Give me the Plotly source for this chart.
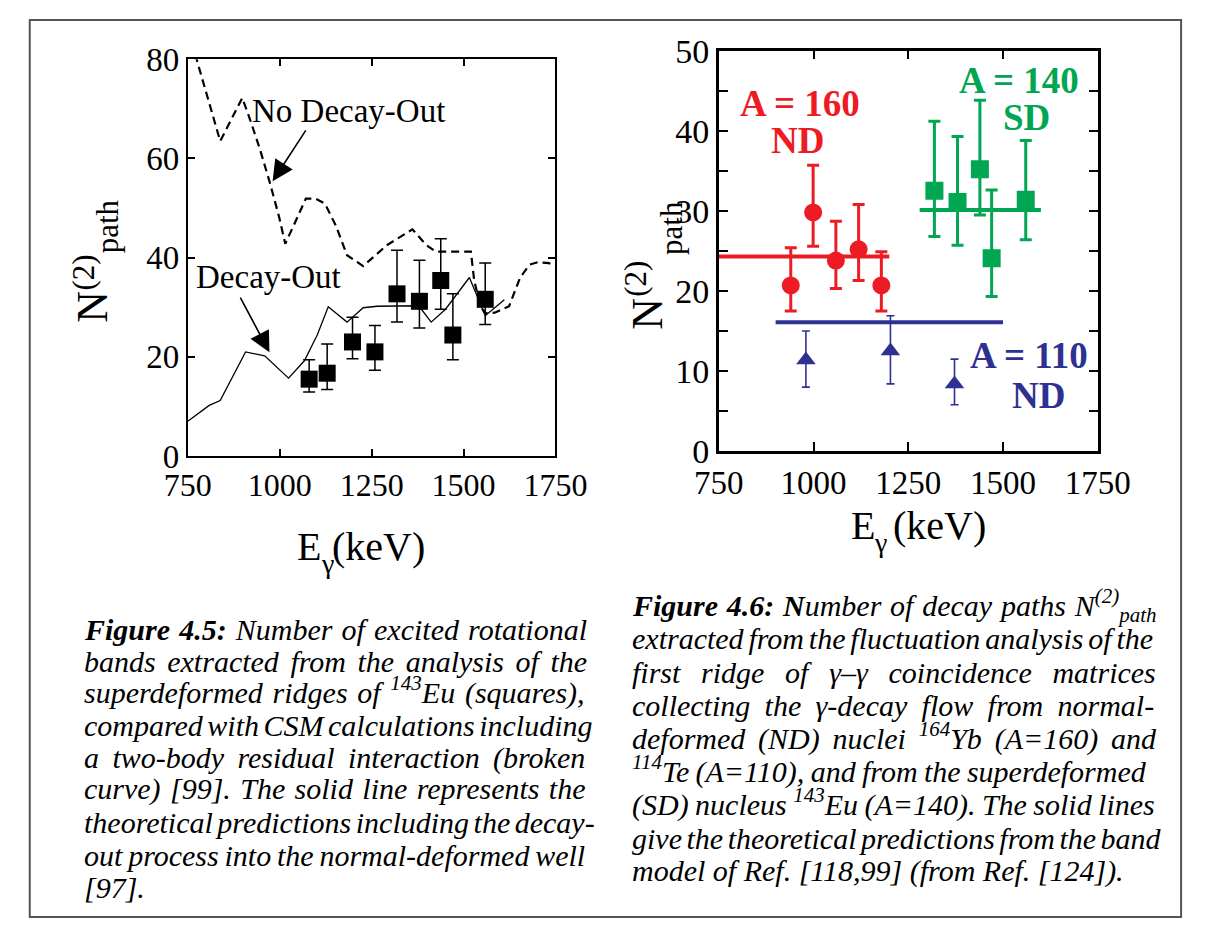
import re
import plotly.graph_objects as go

W, H = 1216, 938

# ---------------- data: left panel (143Eu) ----------------
nodecay_E = [770, 838, 898, 920, 946, 972, 998, 1015, 1041, 1071, 1097, 1123, 1153, 1183, 1227,
             1291, 1361, 1399, 1425, 1520, 1529, 1546, 1559, 1585, 1624, 1654, 1680, 1702, 1732, 1750]
nodecay_N = [81.0, 63.5, 72.2, 67.7, 61.9, 55.4, 48.3, 42.8, 47.0, 51.9, 51.9, 50.9, 46.4, 40.5, 38.3,
             42.5, 45.7, 42.5, 41.2, 41.2, 35.4, 30.2, 28.8, 28.9, 30.2, 36.0, 38.6, 39.1, 38.9, 38.4]

decay_E = [750, 808, 838, 907, 959, 1024, 1067, 1102, 1132, 1183, 1227, 1265, 1378, 1412, 1451,
           1516, 1559, 1611]
decay_N = [7.0, 10.2, 11.2, 21.0, 20.2, 15.7, 19.2, 24.4, 30.1, 27.0, 29.9, 30.2, 30.3, 27.0, 29.6,
           36.0, 28.3, 31.5]

eu_E = [1080, 1129, 1198, 1259, 1319, 1380, 1438, 1471, 1559]
eu_N = [15.5, 16.7, 23.0, 21.0, 32.7, 31.2, 35.4, 24.4, 31.6]
eu_err_plus = [3.9, 5.9, 5.0, 5.3, 8.8, 8.3, 8.4, 8.3, 7.3]
eu_err_minus = [2.6, 3.3, 3.4, 3.7, 5.7, 5.4, 5.8, 5.0, 5.1]

# ---------------- data: right panel ----------------
a160_E = [940, 999, 1059, 1119, 1179]
a160_N = [20.7, 29.8, 23.8, 25.2, 20.7]
a160_plus = [4.7, 5.9, 4.9, 5.6, 4.2]
a160_minus = [3.2, 4.2, 3.5, 3.9, 3.2]

a140_E = [1319, 1380, 1439, 1470, 1560]
a140_N = [32.5, 31.1, 35.2, 24.1, 31.4]
a140_plus = [8.7, 8.2, 8.6, 8.5, 7.4]
a140_minus = [5.7, 5.4, 5.7, 4.8, 5.0]

a110_E = [980, 1203, 1372]
a110_N = [11.4, 12.5, 8.4]
a110_plus = [3.6, 4.4, 3.1]
a110_minus = [3.4, 4.1, 2.6]

theory160_E = [750, 1200]
theory160_N = [24.3, 24.3]
theory140_E = [1280, 1600]
theory140_N = [30.1, 30.1]
theory110_E = [900, 1500]
theory110_N = [16.1, 16.1]

x_ticks = [750, 1000, 1250, 1500, 1750]
left_y_ticks = [0, 20, 40, 60, 80]
right_y_ticks = [0, 5, 10, 15, 20, 25, 30, 35, 40, 45, 50]
right_y_labels = ["0", "", "10", "", "20", "", "30", "", "40", "", "50"]

caption_left = [
    "<b>Figure</b> <b>4.5:</b> Number of excited rotational",
    "bands extracted from the analysis of the",
    "superdeformed ridges of <sup>143</sup>Eu (squares),",
    "compared with CSM calculations including",
    "a two-body residual interaction (broken",
    "curve) [99]. The solid line represents the",
    "theoretical predictions including the decay-",
    "out process into the normal-deformed well",
    "[97].",
]
caption_right = [
    "<b>Figure</b> <b>4.6:</b> <b>N</b>umber of decay paths N<sup>(2)</sup><sub>path</sub>",
    "extracted from the fluctuation analysis of the",
    "first ridge of γ–γ coincidence matrices",
    "collecting the γ-decay flow from normal-",
    "deformed (ND) nuclei <sup>164</sup>Yb (A=160) and",
    "<sup>114</sup>Te (A=110), and from the superdeformed",
    "(SD) nucleus <sup>143</sup>Eu (A=140). The solid lines",
    "give the theoretical predictions from the band",
    "model of Ref. [118,99] (from Ref. [124]).",
]

RED = "#ED1C24"
GREEN = "#00A651"
BLUE = "#2E3192"
SERIF = "Liberation Serif"

fig = go.Figure()

# ---- left panel traces ----
fig.add_trace(go.Scatter(x=nodecay_E, y=nodecay_N, mode="lines",
                         line=dict(color="black", width=2.2, dash="8px,5px"),
                         xaxis="x", yaxis="y", showlegend=False))
fig.add_trace(go.Scatter(x=decay_E, y=decay_N, mode="lines",
                         line=dict(color="black", width=1.3),
                         xaxis="x", yaxis="y", showlegend=False))
fig.add_trace(go.Scatter(x=eu_E, y=eu_N, mode="markers",
                         marker=dict(symbol="square", size=17, color="black"),
                         error_y=dict(type="data", symmetric=False, array=eu_err_plus,
                                      arrayminus=eu_err_minus, color="black",
                                      thickness=1.5, width=6),
                         xaxis="x", yaxis="y", showlegend=False))

# ---- right panel traces ----
for ex, ey, col in [(theory160_E, theory160_N, RED), (theory140_E, theory140_N, GREEN),
                    (theory110_E, theory110_N, BLUE)]:
    fig.add_trace(go.Scatter(x=ex, y=ey, mode="lines", line=dict(color=col, width=4),
                             xaxis="x2", yaxis="y2", showlegend=False))

fig.add_trace(go.Scatter(x=a160_E, y=a160_N, mode="markers",
                         marker=dict(symbol="circle", size=18, color=RED),
                         error_y=dict(type="data", symmetric=False, array=a160_plus,
                                      arrayminus=a160_minus, color=RED, thickness=3, width=6),
                         xaxis="x2", yaxis="y2", showlegend=False))
fig.add_trace(go.Scatter(x=a140_E, y=a140_N, mode="markers",
                         marker=dict(symbol="square", size=18, color=GREEN),
                         error_y=dict(type="data", symmetric=False, array=a140_plus,
                                      arrayminus=a140_minus, color=GREEN, thickness=3, width=6),
                         xaxis="x2", yaxis="y2", showlegend=False))
fig.add_trace(go.Scatter(x=a110_E, y=a110_N, mode="markers",
                         marker=dict(symbol="triangle-up", size=17, color=BLUE),
                         error_y=dict(type="data", symmetric=False, array=a110_plus,
                                      arrayminus=a110_minus, color=BLUE, thickness=1.6, width=4),
                         xaxis="x2", yaxis="y2", showlegend=False))

axis_common = dict(showgrid=False, zeroline=False, showline=True, linecolor="black",
                   mirror="ticks", ticks="inside", tickcolor="black")

fig.update_layout(
    width=W, height=H, autosize=False,
    margin=dict(l=0, r=0, t=0, b=0),
    paper_bgcolor="white", plot_bgcolor="white",
    xaxis=dict(domain=[171 / W, 557 / W], range=[750, 1750], tickvals=x_ticks,
               linewidth=2, ticklen=7, tickwidth=1.5,
               tickfont=dict(family=SERIF, size=32, color="black"), anchor="y", **axis_common),
    yaxis=dict(domain=[1 - 456 / H, 1 - 43 / H], range=[0, 80], tickvals=left_y_ticks,
               linewidth=2, ticklen=7, tickwidth=1.5,
               tickfont=dict(family=SERIF, size=33, color="black"), anchor="x", **axis_common),
    xaxis2=dict(domain=[728.5 / W, 1126.5 / W], range=[750, 1750], tickvals=x_ticks,
                linewidth=2.5, ticklen=9, tickwidth=2,
                tickfont=dict(family=SERIF, size=33, color="black"), anchor="y2", **axis_common),
    yaxis2=dict(domain=[1 - 451 / H, 1 - 34 / H], range=[0, 50], tickvals=right_y_ticks,
                ticktext=right_y_labels, linewidth=2.5, ticklen=9, tickwidth=2,
                tickfont=dict(family=SERIF, size=34, color="black"), anchor="x2", **axis_common),
)

ann = []


def paper_text(text, X, Y, size, xanchor="center", angle=0, weight="normal", style="normal",
               color="black"):
    ann.append(dict(x=X / W, y=1 - Y / H, xref="paper", yref="paper", text=text,
                    showarrow=False, xanchor=xanchor, yanchor="middle", textangle=angle,
                    borderpad=0, borderwidth=0, align="left",
                    font=dict(family=SERIF, size=size, color=color, weight=weight,
                              style=style)))


# left panel labels + arrows
ann.append(dict(x=1188, y=69.5, xref="x", yref="y", text="No Decay-Out", showarrow=False,
                font=dict(family=SERIF, size=33, color="black"), xanchor="center", yanchor="middle"))
ann.append(dict(x=970, y=36.0, xref="x", yref="y", text="Decay-Out", showarrow=False,
                font=dict(family=SERIF, size=33, color="black"), xanchor="center", yanchor="middle"))
ann.append(dict(x=980.6, y=55.4, ax=1079, ay=66.6, xref="x", yref="y", axref="x", ayref="y",
                text=" ", showarrow=True, arrowhead=2, arrowsize=2.6, arrowwidth=1.6,
                arrowcolor="black"))
ann.append(dict(x=972, y=20.9, ax=884.7, ay=33.1, xref="x", yref="y", axref="x", ayref="y",
                text=" ", showarrow=True, arrowhead=2, arrowsize=2.6, arrowwidth=1.6,
                arrowcolor="black"))

# right panel labels
for txt, xx, yy, col in [("A = 160", 965, 43.4, RED), ("ND", 959, 38.8, RED),
                         ("A = 140", 1543, 46.3, GREEN), ("SD", 1563, 41.6, GREEN),
                         ("A = 110", 1568, 12.0, BLUE), ("ND", 1593, 6.9, BLUE)]:
    ann.append(dict(x=xx, y=yy, xref="x2", yref="y2", text=txt, showarrow=False,
                    font=dict(family=SERIF, size=37, color=col, weight="bold"),
                    xanchor="center", yanchor="middle"))

# axis titles (N^(2)_path built from pieces, rotated)
paper_text("N", 70, 301, 44, angle=-90)
paper_text("(2)", 62, 265, 31, angle=-90)
paper_text("path", 87, 217, 31, angle=-90)
paper_text("N", 654, 308, 44, angle=-90)
paper_text("(2)", 641, 271, 31, angle=-90)
paper_text("path", 679, 219, 31, angle=-90)
# E_gamma (keV)
paper_text("E", 286, 550, 40, xanchor="left")
paper_text("γ", 311, 568, 28, xanchor="left")
paper_text("(keV)", 322, 550, 40, xanchor="left")
paper_text("E", 867, 528, 40, xanchor="left")
paper_text("γ", 891, 546, 28, xanchor="left")
paper_text("(keV)", 911, 528, 40, xanchor="left")

# ---- captions: one annotation per line, justified with sized non-breaking spaces ----
IT = {' ': 250, '(': 333, ')': 333, ',': 250, '-': 333, '.': 250, ':': 333, '=': 675,
      '[': 389, ']': 389, '–': 500, 'γ': 430,
      'A': 611, 'B': 611, 'C': 667, 'D': 722, 'E': 611, 'F': 611, 'G': 722, 'H': 722,
      'I': 333, 'J': 444, 'K': 667, 'L': 556, 'M': 833, 'N': 667, 'O': 722, 'P': 611,
      'Q': 722, 'R': 611, 'S': 500, 'T': 556, 'U': 722, 'V': 611, 'W': 833, 'X': 611,
      'Y': 556, 'Z': 556,
      'a': 500, 'b': 500, 'c': 444, 'd': 500, 'e': 444, 'f': 278, 'g': 500, 'h': 500,
      'i': 278, 'j': 278, 'k': 444, 'l': 278, 'm': 722, 'n': 500, 'o': 500, 'p': 500,
      'q': 500, 'r': 389, 's': 389, 't': 278, 'u': 500, 'v': 444, 'w': 667, 'x': 444,
      'y': 444, 'z': 389}
BI = {'F': 667, 'N': 722, 'u': 556}
NBSP = "\u00a0"
WIDTH_FACTOR = 1.05


def word_width(word, size):
    total = 0.0
    bold = False
    scale = 1.0
    for tok in re.split(r'(<[^>]+>)', word):
        if not tok:
            continue
        if tok.startswith('<'):
            t = tok.strip('<>/').lower()
            closing = tok.startswith('</')
            if t == 'b':
                bold = not closing
            elif t in ('sup', 'sub'):
                scale = 1.0 if closing else 0.7
            continue
        for ch in tok:
            w = IT.get(ch, 500)
            if bold and ch in BI:
                w = BI[ch]
            total += w * scale
    return total / 1000.0 * size * WIDTH_FACTOR


def add_caption(lines, x0, x1, ys, size):
    unit = 0.25 * size
    for i, (line, yy) in enumerate(zip(lines, ys)):
        words = line.split(' ')
        widths = [word_width(w, size) for w in words]
        last = (i == len(lines) - 1)
        if last or len(words) == 1:
            gap = unit
        else:
            gap = max(unit * 0.6, (x1 - x0 - sum(widths)) / (len(words) - 1))
        k = int(gap // unit)
        r = gap - k * unit
        sep = NBSP * k
        if r > 0.4:
            sep += '<span style="font-size:%.1fpx">%s</span>' % (r / 0.25, NBSP)
        text = sep.join(words)
        shift = 0
        if "<sup>" in line:
            shift -= 3
        if "<sub>" in line:
            shift += 3
        paper_text(text, x0, yy + shift, size, xanchor="left", style="italic")


add_caption(caption_left, 62, 588, [637, 670, 703, 737, 770, 803, 838, 872, 905], 30)
add_caption(caption_right, 637, 1184, [612, 646, 681, 716, 751, 785, 820, 854, 888], 30)

fig.update_layout(annotations=ann)

# outer frame
fig.add_shape(type="rect", xref="paper", yref="paper", x0=5 / W, x1=1214 / W,
              y0=1 - 936 / H, y1=1 - 2 / H, line=dict(color="#555555", width=2),
              fillcolor="rgba(0,0,0,0)", layer="above")

fig.write_html("out.html")
